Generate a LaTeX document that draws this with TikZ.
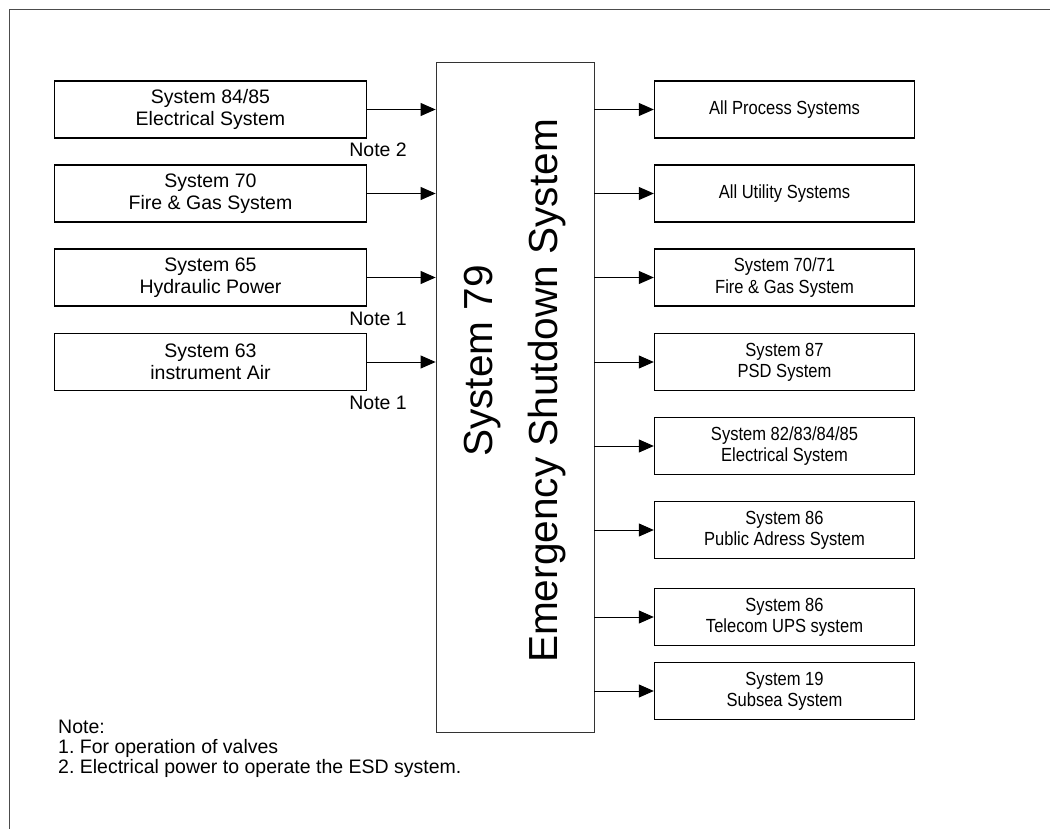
\documentclass[tikz,border=0pt]{standalone}
\usepackage{fontspec}
\setmainfont{Liberation Sans}
\newfontfamily\narrowfont[FakeStretch=0.87]{Liberation Sans}
\usetikzlibrary{arrows.meta}
\frenchspacing

\tikzset{
  inbox/.style={draw=black, line width=1.4pt, minimum width=312pt, minimum height=57pt,
    inner sep=0pt, align=center, font=\fontsize{19.5}{21.7}\selectfont},
  outbox/.style={draw=black, line width=1.4pt, minimum width=260pt, minimum height=57pt,
    inner sep=0pt, align=center, font=\narrowfont\fontsize{19}{21.3}\selectfont},
  flow/.style={black, line width=1pt, -{Triangle[length=15pt,width=13pt]}},
  notetext/.style={inner sep=0pt, font=\fontsize{19.5}{21.7}\selectfont},
  bigtext/.style={inner sep=0pt, rotate=90, anchor=base, font=\fontsize{40.6}{48}\selectfont}
}

\begin{document}
\begin{tikzpicture}[x=1pt, y=-1pt]
                \useasboundingbox (0, 0) rectangle (1050, 829);
                % Frame
                \draw [black!70, line width=1pt] (9, 829) -- (9, 10) -- (1050, 10);
                % ESD system
                \node [draw=black!80, line width=0.8pt, minimum width=158pt, minimum height=670pt] (esd) at (515, 397) {};
                \node [bigtext] (esdnum) at (492, 361) {System 79};
                \node [bigtext] (esdname) at (557, 391) {Emergency Shutdown System};
                % Inputs
                \node [inbox] (in1) at (210.5, 109.5) {System 84/85\\Electrical System};
                \node [inbox] (in2) at (210.5, 193.5) {System 70\\Fire \& Gas System};
                \node [inbox] (in3) at (210.5, 277.5) {System 65\\Hydraulic Power};
                \node [inbox] (in4) at (210.5, 362) {System 63\\instrument Air};
                \draw [flow] (in1.east) -- (in1.east -| esd.west);
                \draw [flow] (in2.east) -- (in2.east -| esd.west);
                \draw [flow] (in3.east) -- (in3.east -| esd.west);
                \draw [flow] (in4.east) -- (in4.east -| esd.west);
                \node [notetext, anchor=base east] (note2) at (407, 157) {Note 2};
                \node [notetext, anchor=base east] (note1a) at (407, 325) {Note 1};
                \node [notetext, anchor=base east] (note1b) at (407, 409) {Note 1};
                % Outputs
                \node [outbox] (out1) at (784.5, 109.5) {All Process Systems};
                \node [outbox] (out2) at (784.5, 193.5) {All Utility Systems};
                \node [outbox] (out3) at (784.5, 277.5) {System 70/71\\Fire \& Gas System};
                \node [outbox] (out4) at (784.5, 362) {System 87\\PSD System};
                \node [outbox] (out5) at (784.5, 446) {System 82/83/84/85\\Electrical System};
                \node [outbox] (out6) at (784.5, 530) {System 86\\Public Adress System};
                \node [outbox] (out7) at (784.5, 617) {System 86\\Telecom UPS system};
                \node [outbox] (out8) at (784.5, 691) {System 19\\Subsea System};
                \foreach \n in {1,...,8}
                  \draw [flow] (esd.east |- out\n.west) -- (out\n.west);
                % Notes
                \node [notetext, anchor=base west] (notehead) at (58, 733) {Note:};
                \node [notetext, anchor=base west] (noteone) at (58, 753) {1. For operation of valves};
                \node [notetext, anchor=base west] (notetwo) at (58, 773) {2. Electrical power to operate the ESD system.};
            \end{tikzpicture}
\end{document}
